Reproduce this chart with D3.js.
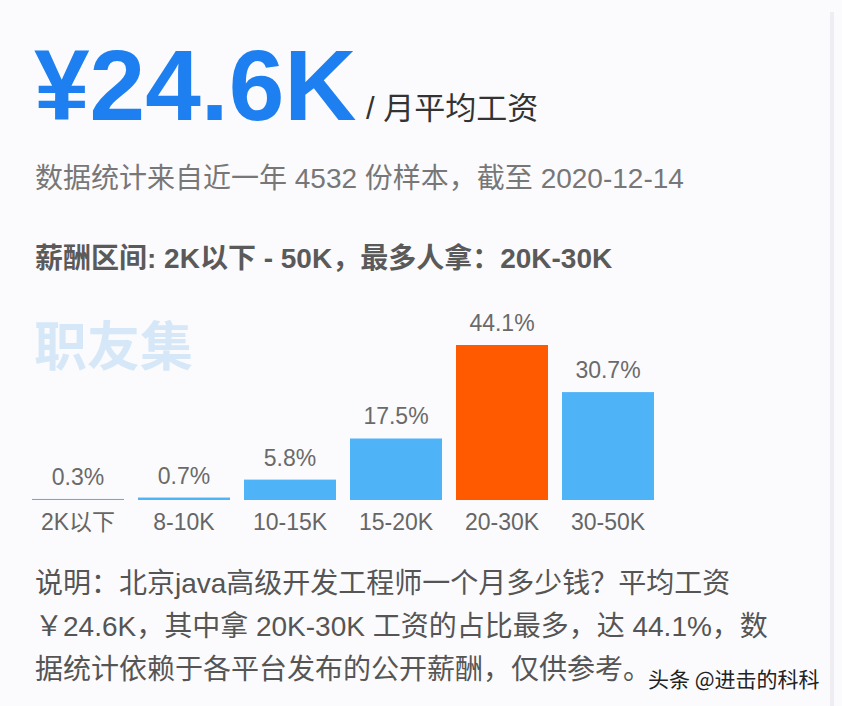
<!DOCTYPE html>
<html>
<head>
<meta charset="utf-8">
<script src="https://cdn.jsdelivr.net/npm/d3@7"></script>
<style>
  html, body { margin: 0; padding: 0; background: #fbfbfd; }
  svg { display: block; }
</style>
</head>
<body>
<div id="chart"></div>
<script>
// ---- data ----
const categories = ["2K以下", "8-10K", "10-15K", "15-20K", "20-30K", "30-50K"];
const values = [0.3, 0.7, 5.8, 17.5, 44.1, 30.7];
const valueLabels = ["0.3%", "0.7%", "5.8%", "17.5%", "44.1%", "30.7%"];
const headline = "¥24.6K";
const headlineUnit = "/ 月平均工资";
const subtitle = "数据统计来自近一年 4532 份样本，截至 2020-12-14";
const rangeLine = "薪酬区间: 2K以下 - 50K，最多人拿：20K-30K";
const watermark = "职友集";
const descLines = [
  "说明：北京java高级开发工程师一个月多少钱？平均工资",
  "￥24.6K，其中拿 20K-30K 工资的占比最多，达 44.1%，数",
  "据统计依赖于各平台发布的公开薪酬，仅供参考。"
];
const credit = "头条 @进击的科科";

// ---- drawing ----
const W = 842, H = 706;
const latin = "'Liberation Sans', Arial, 'Noto Sans CJK SC', sans-serif";

const svg = d3.select("#chart").append("svg")
  .attr("width", W).attr("height", H);

svg.append("rect").attr("width", W).attr("height", H).attr("fill", "#fbfbfd");
// right side strip
svg.append("rect").attr("x", 830).attr("y", 12).attr("width", 4).attr("height", H - 12)
  .attr("fill", "#ededf2");

// headline
svg.append("text").attr("x", 34).attr("y", 120)
  .attr("font-family", latin).attr("font-weight", "bold").attr("font-size", 100)
  .attr("fill", "#1e80f0")
  .text(headline);
svg.append("text").attr("x", 366).attr("y", 119)
  .attr("font-family", latin).attr("font-size", 31).attr("fill", "#333")
  .text(headlineUnit);

svg.append("text").attr("x", 35).attr("y", 188)
  .attr("font-family", latin).attr("font-size", 28).attr("fill", "#777")
  .text(subtitle);

svg.append("text").attr("x", 35).attr("y", 268)
  .attr("font-family", latin).attr("font-weight", "bold").attr("font-size", 28).attr("fill", "#5a5a5a")
  .text(rangeLine);

// watermark
svg.append("text").attr("x", 34).attr("y", 366)
  .attr("font-family", "'Noto Sans CJK SC', sans-serif").attr("font-weight", "bold")
  .attr("font-size", 53).attr("fill", "#d6e8f8")
  .text(watermark);

// bars
const baseY = 500;
const x = d3.scaleBand().domain(categories).range([25, 661])
  .paddingInner(0.132).paddingOuter(0.066);
const y = d3.scaleLinear().domain([0, 44.1]).range([baseY, baseY - 155]);
const maxV = d3.max(values);

const g = svg.append("g");
g.selectAll("rect.bar").data(values).join("rect")
  .attr("class", "bar")
  .attr("x", (d, i) => x(categories[i]))
  .attr("y", d => y(d))
  .attr("width", x.bandwidth())
  .attr("height", d => baseY - y(d))
  .attr("fill", d => d === maxV ? "#ff5a00" : "#4fb3f7");

g.selectAll("text.val").data(values).join("text")
  .attr("class", "val")
  .attr("x", (d, i) => x(categories[i]) + x.bandwidth() / 2)
  .attr("y", d => y(d) - 14)
  .attr("text-anchor", "middle")
  .attr("font-family", latin).attr("font-size", 23).attr("fill", "#6a6a6a")
  .text((d, i) => valueLabels[i]);

const xAxis = d3.axisBottom(x).tickSize(0).tickPadding(0);
const ax = svg.append("g").attr("transform", `translate(0,${baseY})`).call(xAxis);
ax.select(".domain").remove();
ax.selectAll("text")
  .attr("dy", 0).attr("y", 30)
  .attr("font-family", latin).attr("font-size", 23).attr("fill", "#666");

// description
svg.append("g").selectAll("text").data(descLines).join("text")
  .attr("x", 35).attr("y", (d, i) => 593 + i * 43)
  .attr("font-family", latin).attr("font-size", 28).attr("fill", "#555")
  .text(d => d);

svg.append("text").attr("x", 648).attr("y", 687)
  .attr("font-family", "'Noto Sans CJK SC', sans-serif").attr("font-size", 21).attr("fill", "#222")
  .text(credit);
</script>
</body>
</html>
